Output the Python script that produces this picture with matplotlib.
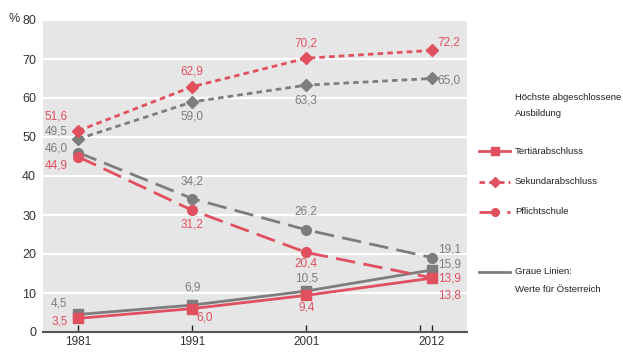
import numpy as np
import matplotlib
matplotlib.use("Agg")
import matplotlib.pyplot as plt
from matplotlib.lines import Line2D

plt.rcParams['font.family'] = ['Liberation Sans', 'DejaVu Sans']

years = [1981, 1991, 2001, 2012]
year_labels = ['1981', '1991', '2001', '2012']

# red = region, gray = Austria
tert_red = [3.5, 6.0, 9.4, 13.8]
tert_gray = [4.5, 6.9, 10.5, 15.9]
sek_red = [51.6, 62.9, 70.2, 72.2]
sek_gray = [49.5, 59.0, 63.3, 65.0]
pfl_red = [44.9, 31.2, 20.4, 13.9]
pfl_gray = [46.0, 34.2, 26.2, 19.1]

RED = '#e0505f'
GRAY = '#7d7d7e'
FS = 8.5

fig = plt.figure(figsize=(6.23, 3.52), dpi=100)
ax = fig.add_axes([43/623, 20/352, (467-43)/623, (332-20)/352])
ax.set_facecolor('#e6e6e6')

lw = 2.0
ax.plot(years, sek_gray, color=GRAY, lw=lw, dashes=(2, 1.5), marker='D', ms=6.5, zorder=3)
ax.plot(years, sek_red, color=RED, lw=lw, dashes=(2, 1.5), marker='D', ms=6.5, zorder=4)
ax.plot(years, pfl_gray, color=GRAY, lw=lw, dashes=(7, 3), marker='o', ms=7, zorder=3)
ax.plot(years, pfl_red, color=RED, lw=lw, dashes=(7, 3), marker='o', ms=7, zorder=4)
ax.plot(years, tert_gray, color=GRAY, lw=lw, marker='s', ms=6.5, zorder=3)
ax.plot(years, tert_red, color=RED, lw=lw, marker='s', ms=6.5, zorder=4)

ax.set_xlim(1977.9, 2015.1)
ax.set_ylim(0, 80)
ax.set_yticks(range(0, 81, 10))
ax.set_xticks(years + [2011])
ax.set_xticklabels(year_labels + [''])
ax.grid(axis='y', color='white', lw=1.6)
ax.set_axisbelow(True)
for s in ['top', 'right', 'left']:
    ax.spines[s].set_visible(False)
ax.spines['bottom'].set_color('#555555')
ax.spines['bottom'].set_linewidth(1.5)
ax.tick_params(axis='y', length=0, labelsize=9, labelcolor='#333333', pad=5)
ax.tick_params(axis='x', direction='in', length=5, width=1, color='#222222',
               labelsize=8.5, labelcolor='#333333', pad=3)
fig.text(14/623, 1 - 19/352, '%', fontsize=9, color='#333333', ha='center', va='center')

def fmt(v):
    return f'{v:.1f}'.replace('.', ',')

# (series, color, offsets per year in pixels)
labels = [
    (sek_red, RED, [(-22, 14), (0, 15), (0, 15), (6, 8)]),
    (sek_gray, GRAY, [(-22, 7), (0, -15), (0, -15), (6, -2)]),
    (pfl_gray, GRAY, [(-22, 4), (0, 17), (0, 18), (6, 8)]),
    (pfl_red, RED, [(-22, -9), (0, -14), (0, -11), (6, -1)]),
    (tert_gray, GRAY, [(-19, 11), (0, 18), (0, 13), (6, 5)]),
    (tert_red, RED, [(-19, -3), (12, -9), (0, -12), (6, -17)]),
]
for vals, col, offs in labels:
    for i, (x, v) in enumerate(zip(years, vals)):
        dx, dy = offs[i]
        ha = 'left' if x == 2012 else 'center'
        ax.annotate(fmt(v), (x, v), xytext=(dx, dy), textcoords='offset pixels',
                    ha=ha, va='center', color=col, fontsize=FS, zorder=6)

# legend drawn by hand
def fx(px):
    return px / 623

def fy(py):
    return 1 - py / 352

LFS = 6.8
TX = 515
fig.text(fx(TX), fy(97), 'Höchste abgeschlossene', fontsize=LFS, color='#222222', va='center')
fig.text(fx(TX), fy(114), 'Ausbildung', fontsize=LFS, color='#222222', va='center')

entries = [
    ('Tertiärabschluss', 151, 's', None),
    ('Sekundarabschluss', 182, 'D', (2, 1.5)),
    ('Pflichtschule', 212, 'o', (7, 3)),
]
for name, py, mk, ds in entries:
    ln = Line2D([fx(479), fx(510)], [fy(py), fy(py)], transform=fig.transFigure,
                color=RED, lw=lw)
    if ds:
        ln.set_dashes(ds)
    fig.add_artist(ln)
    fig.add_artist(Line2D([fx(494.5)], [fy(py)], transform=fig.transFigure,
                          color=RED, marker=mk, ms=5.5, ls='none'))
    fig.text(fx(TX), fy(py), name, fontsize=LFS, color='#222222', va='center')

fig.add_artist(Line2D([fx(479), fx(510)], [fy(272), fy(272)], transform=fig.transFigure,
                      color=GRAY, lw=lw))
fig.text(fx(TX), fy(272), 'Graue Linien:', fontsize=LFS, color='#222222', va='center')
fig.text(fx(TX), fy(290), 'Werte für Österreich', fontsize=LFS, color='#222222', va='center')

fig.savefig('out.png', dpi=100)
